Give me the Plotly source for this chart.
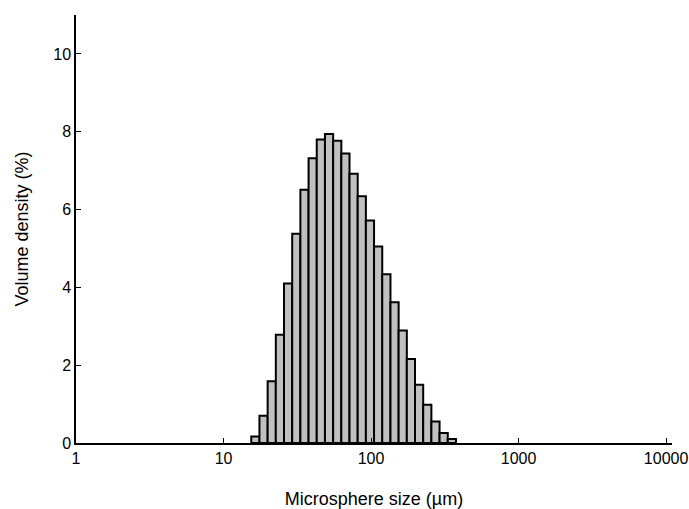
import plotly.graph_objects as go

# bin edges (µm) and volume density (%) per bin
edges = [15.42, 17.52, 19.91, 22.62, 25.70, 29.21, 33.19, 37.71, 42.85, 48.70,
         55.34, 62.88, 71.45, 81.19, 92.26, 104.8, 119.1, 135.4, 153.8, 174.8,
         198.6, 225.7, 256.4, 291.4, 331.1, 376.3]
density = [0.17, 0.70, 1.59, 2.78, 4.10, 5.38, 6.51, 7.32, 7.80, 7.94,
           7.77, 7.44, 6.92, 6.34, 5.72, 5.05, 4.34, 3.62, 2.89, 2.16,
           1.50, 0.98, 0.55, 0.26, 0.10]
xtick_vals = [1, 10, 100, 1000, 10000]
xtick_text = ["1", "10", "100", "1000", "10000"]
ytick_vals = [0, 2, 4, 6, 8, 10]

lefts = edges[:-1]
widths = [r - l for l, r in zip(edges[:-1], edges[1:])]

fig = go.Figure(go.Bar(
    x=lefts, y=density, width=widths, offset=0,
    marker=dict(color="#c0c0c0", line=dict(color="black", width=2)),
))

font = "Liberation Sans, Arial, sans-serif"
fig.update_layout(
    width=689, height=509,
    margin=dict(l=76, r=17, t=15, b=66),
    plot_bgcolor="white", paper_bgcolor="white",
    showlegend=False,
    font=dict(family=font, size=16, color="black"),
)
fig.update_xaxes(
    type="log", range=[0, 4.04], automargin=False,
    tickvals=xtick_vals, ticktext=xtick_text,
    ticks="inside", ticklen=5, tickwidth=1.2, tickcolor="black",
    showline=True, linecolor="black", linewidth=1.5,
    showgrid=False, zeroline=False,
    title=dict(text="Microsphere size (µm)", font=dict(size=18), standoff=28),
)
fig.update_yaxes(
    range=[0, 11], automargin=False,
    tickvals=ytick_vals,
    ticks="inside", ticklen=5, tickwidth=1.2, tickcolor="black",
    showline=True, linecolor="black", linewidth=1.5,
    showgrid=False, zeroline=False,
    title=dict(text="Volume density (%)", font=dict(size=18), standoff=20),
)

fig.write_html(
    "out.html",
    config={"displayModeBar": False},
    post_script="document.body.style.margin='0';document.body.style.overflow='hidden';",
)
